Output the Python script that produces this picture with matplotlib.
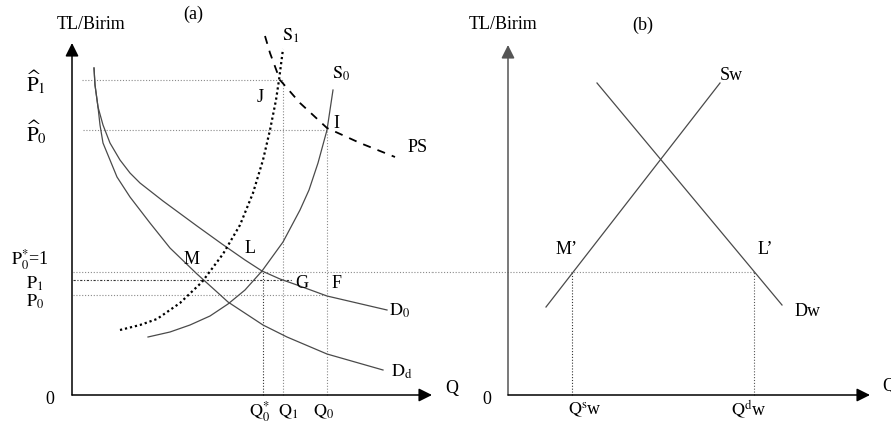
import matplotlib
matplotlib.use("Agg")
import matplotlib.pyplot as plt

plt.rcParams['font.family'] = ['Liberation Serif', 'DejaVu Serif']
plt.rcParams['mathtext.fontset'] = 'stix'

# ---------------- Panel (a): domestic market ----------------
# demand curves
d0_q = [22, 23, 26, 31, 38, 48, 58, 68, 91, 125, 150, 173, 190, 208, 225, 255, 315]
d0_p = [327, 310, 288, 270, 252, 235, 222, 212, 194, 169, 151, 135, 124, 116, 110, 99, 85]
dd_q = [22, 23, 26, 28, 31, 45, 58, 78, 98, 125, 145, 156, 191, 215, 255, 311]
dd_p = [327, 310, 288, 270, 252, 218, 198, 172, 147, 121, 103, 93, 70, 58, 41, 25]
# supply curves
s0_q = [76, 98, 118, 138, 156, 173, 190, 211, 228, 237, 246, 255, 261]
s0_p = [58, 63, 70, 79, 91, 105, 124, 153, 185, 205, 232, 265, 305]
s1_q = [48, 68, 85, 108, 130, 151, 168, 181, 191, 198, 204, 207, 211]
s1_p = [65, 70, 76, 92, 113, 141, 170, 202, 235, 265, 295, 315, 346]
# price-support curve
ps_q = [193, 198, 208, 228, 255, 288, 323]
ps_p = [359, 342, 315, 292, 267, 252, 238]

# price levels
p_hat1 = 315
p_hat0 = 265
p_star0 = 123
p_1 = 115
p_0 = 100
# quantity levels
q_star0 = 191
q_1 = 211
q_0 = 255
q_g = 221          # end of the P1 guide (point G)
a_axis_q = 360     # x-axis length (a)
a_axis_p = 352     # y-axis length (a)

# ---------------- Panel (b): world market ----------------
sw_q = [38, 212]
sw_p = [88, 312]
dw_q = [89, 274]
dw_p = [312, 90]
qs_w = 64
qd_w = 246
b_axis_q = 362
b_axis_p = 350

fig = plt.figure(figsize=(8.91, 4.28), dpi=100)
axa = fig.add_axes([0, 0, 1, 1])
axb = fig.add_axes([0, 0, 1, 1])
for ax in (axa, axb):
    ax.set_axis_off()
    ax.patch.set_alpha(0)
axa.set_xlim(-72, 891 - 72)
axa.set_ylim(-33, 395)
axb.set_xlim(-508, 891 - 508)
axb.set_ylim(-33, 395)

FS = 13
curve_c = '#4a4a4a'
guide_c = '#8a8a8a'
dot_ls = (0, (1, 1.6))


def axes_arrows(ax, xlen, ylen, ycol='black'):
    ax.annotate('', xy=(0, ylen), xytext=(0, 0),
                arrowprops=dict(arrowstyle='-|>', color=ycol, lw=1.1,
                                mutation_scale=20, shrinkA=0, shrinkB=0))
    ax.annotate('', xy=(xlen, 0), xytext=(0, 0),
                arrowprops=dict(arrowstyle='-|>', color='black', lw=1.1,
                                mutation_scale=20, shrinkA=0, shrinkB=0))


# ---- panel (a) ----
axes_arrows(axa, a_axis_q, a_axis_p)

# horizontal guides
axa.plot([10, q_1], [p_hat1, p_hat1], color=guide_c, lw=0.8, ls=dot_ls)
axa.plot([11, q_0], [p_hat0, p_hat0], color=guide_c, lw=0.8, ls=dot_ls)
axa.plot([1, a_axis_q], [p_star0, p_star0], color=guide_c, lw=0.8, ls=dot_ls)
axa.plot([1, q_g], [p_1, p_1], color='#333333', lw=0.8, ls=(0, (2, 1.5, 1, 1.5)))
axa.plot([1, q_0], [p_0, p_0], color=guide_c, lw=0.8, ls=dot_ls)
# vertical guides
axa.plot([q_star0, q_star0], [0, p_star0], color='#333333', lw=0.8, ls=dot_ls)
axa.plot([q_1, q_1], [0, p_hat1], color=guide_c, lw=0.8, ls=dot_ls)
axa.plot([q_0, q_0], [0, p_hat0], color=guide_c, lw=0.8, ls=dot_ls)

# curves
axa.plot(d0_q, d0_p, color=curve_c, lw=0.9)
axa.plot(dd_q, dd_p, color=curve_c, lw=0.9)
axa.plot(s0_q, s0_p, color=curve_c, lw=0.9)
axa.plot(s1_q, s1_p, color='black', lw=1.6, ls=(0, (1, 1.3)))
axa.plot(ps_q, ps_p, color='black', lw=1.3, ls=(0, (4.5, 4)))

# labels (a)
axa.text(19, 371, 'TL/Birim', fontsize=FS, ha='center', va='center')
axa.text(121, 381, '(a)', fontsize=FS, ha='center', va='center')
axa.text(-36, 313, r'$\widehat{\mathrm{P}}_{1}$', fontsize=FS + 2, ha='center', va='center')
axa.text(-36, 263, r'$\widehat{\mathrm{P}}_{0}$', fontsize=FS + 2, ha='center', va='center')
axa.text(-42, 135, r'$\mathrm{P}^{*}_{0}$=1', fontsize=FS, ha='center', va='center')
axa.text(-37, 111, r'$\mathrm{P}_{1}$', fontsize=FS, ha='center', va='center')
axa.text(-37, 93, r'$\mathrm{P}_{0}$', fontsize=FS, ha='center', va='center')
axa.text(-22, -4, '0', fontsize=FS, ha='center', va='center')
axa.text(380, 7, 'Q', fontsize=FS, ha='center', va='center')
axa.text(188, -17, r'$\mathrm{Q}^{*}_{0}$', fontsize=FS, ha='center', va='center')
axa.text(216, -17, r'$\mathrm{Q}_{1}$', fontsize=FS, ha='center', va='center')
axa.text(252, -17, r'$\mathrm{Q}_{0}$', fontsize=FS, ha='center', va='center')
axa.text(219, 359, r'$\mathrm{S}_{1}$', fontsize=FS, ha='center', va='center')
axa.text(269, 321, r'$\mathrm{S}_{0}$', fontsize=FS, ha='center', va='center')
axa.text(346, 247, 'PS', fontsize=FS, ha='center', va='center')
axa.text(188, 298, 'J', fontsize=FS, ha='center', va='center')
axa.text(264, 272, 'I', fontsize=FS, ha='center', va='center')
axa.text(178, 147, 'L', fontsize=FS, ha='center', va='center')
axa.text(120, 136, 'M', fontsize=FS, ha='center', va='center')
axa.text(230, 111, 'G', fontsize=FS, ha='center', va='center')
axa.text(265, 111, 'F', fontsize=FS, ha='center', va='center')
axa.text(328, 84, r'$\mathrm{D}_{0}$', fontsize=FS, ha='center', va='center')
axa.text(330, 23, r'$\mathrm{D}_{\mathrm{d}}$', fontsize=FS, ha='center', va='center')

# ---- panel (b) ----
axes_arrows(axb, b_axis_q, b_axis_p, ycol='#555555')
# world price guide, continuing from panel (a)
x_start = axb.transData.inverted().transform(axa.transData.transform((a_axis_q, 0)))[0]
axb.plot([x_start, qd_w], [p_star0, p_star0], color=guide_c, lw=0.8, ls=dot_ls)
axb.plot([qs_w, qs_w], [0, p_star0], color='#333333', lw=0.8, ls=dot_ls)
axb.plot([qd_w, qd_w], [0, p_star0], color='#555555', lw=0.8, ls=dot_ls)
axb.plot(sw_q, sw_p, color=curve_c, lw=0.9)
axb.plot(dw_q, dw_p, color=curve_c, lw=0.9)

axb.text(-5, 371, 'TL/Birim', fontsize=FS, ha='center', va='center')
axb.text(135, 370, '(b)', fontsize=FS, ha='center', va='center')
axb.text(223, 320, 'Sw', fontsize=FS, ha='center', va='center')
axb.text(300, 84, 'Dw', fontsize=FS, ha='center', va='center')
axb.text(59, 146, 'M\u2019', fontsize=FS, ha='center', va='center')
axb.text(257, 146, 'L\u2019', fontsize=FS, ha='center', va='center')
axb.text(-21, -4, '0', fontsize=FS, ha='center', va='center')
axb.text(374, 8, 'Q', fontsize=FS, ha='left', va='center')
axb.text(77, -15, r'$\mathrm{Q}^{\mathrm{s}}$w', fontsize=FS, ha='center', va='center')
axb.text(241, -15, r'$\mathrm{Q}^{\mathrm{d}}$w', fontsize=FS, ha='center', va='center')

fig.savefig('out.png', dpi=100)
